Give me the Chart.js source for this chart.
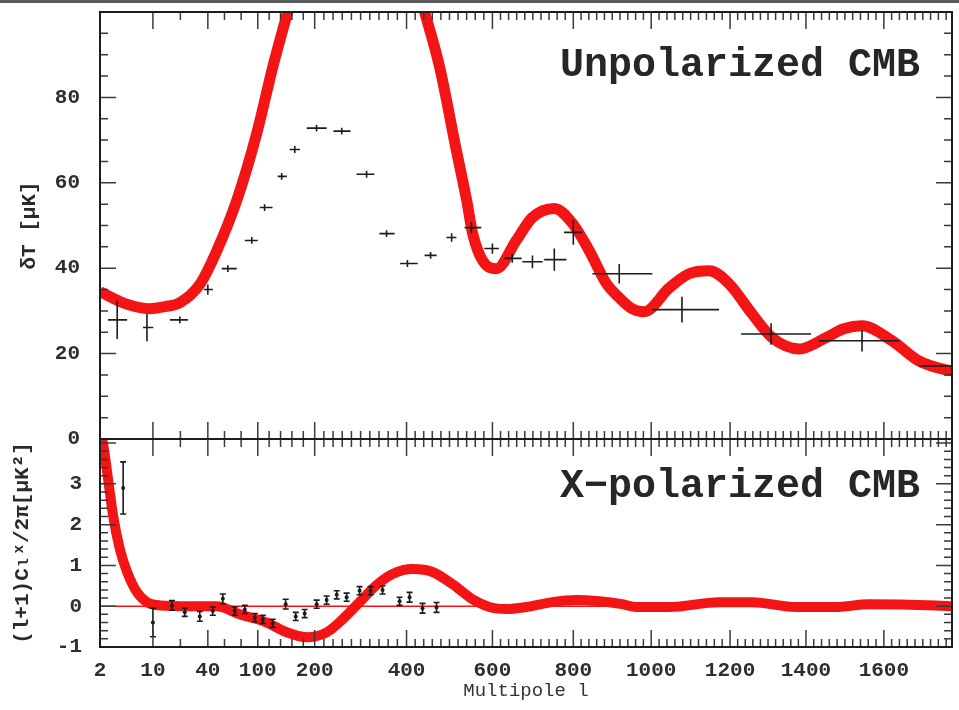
<!DOCTYPE html>
<html>
<head>
<meta charset="utf-8">
<script src="https://cdn.jsdelivr.net/npm/chart.js@4.4.1/dist/chart.umd.min.js"></script>
<style>
  html, body { margin: 0; padding: 0; background: #fff; }
  #wrap { width: 959px; height: 710px; }
</style>
</head>
<body>
<div id="wrap"><canvas id="cmbChart" width="959" height="710"></canvas></div>
<script>
// x axis tick labels (multipole l)
const xTickLabels = [2, 10, 40, 100, 200, 400, 600, 800, 1000, 1200, 1400, 1600];
const yTopTickLabels = [0, 20, 40, 60, 80];
const yBotTickLabels = [-1, 0, 1, 2, 3];

// model curve, unpolarized (dT in uK)
const modelTopL = [2, 5.8, 9.5, 16.5, 24.7, 35.6, 50.8, 74.8, 98.8, 126.3, 152.6, 191, 243, 291, 352, 407, 442,
  477, 516, 540, 554, 577, 610, 659, 699, 753, 798, 841, 885, 918, 951, 982, 1046, 1096, 1147, 1197, 1258, 1311,
  1382, 1451, 1497, 1544, 1621, 1690, 1759, 1775];
const modelTopT = [34.5, 31.7, 30.5, 31.0, 31.9, 36.2, 44.1, 55.9, 71.6, 87.1, 100, 118, 132, 136, 129, 112, 100,
  87.1, 67.6, 55.9, 48.1, 41.8, 39.9, 46.5, 51.9, 54.0, 50.5, 44.1, 36.4, 33.1, 30.5, 29.8, 35.4, 38.7, 39.4, 36.4, 29.3, 23.7,
  21.1, 23.7, 25.8, 26.5, 23.0, 18.3, 16.2, 16.0];

// measured band powers, unpolarized
const dataTopL = [4.6, 9.1, 24.7, 40, 64, 92.8, 112, 142, 165, 204, 259, 313, 356.5, 402, 456, 505, 551, 600, 649, 699,
  753, 800, 918, 1078, 1308, 1544, 1800];
const dataTopT = [27.9, 26.1, 27.9, 35.0, 39.9, 46.5, 54.2, 61.5, 67.8, 72.8, 72.1, 62.0, 48.1, 41.1, 43.0, 47.2, 49.5,
  44.6, 42.3, 41.5, 42.0, 48.4, 38.7, 30.3, 24.6, 23.0, 17.1];
const dataTopErr = [4.5, 3.2, 0.8, 1.2, 0.8, 0.8, 0.8, 0.8, 0.8, 0.8, 0.8, 0.8, 0.8, 0.8, 0.8, 1.0, 1.3, 1.2, 1.0, 1.5,
  2.6, 2.9, 2.3, 3.0, 2.5, 2.5, 2.5];
const dataTopLo = [3.2, 8.5, 19.3, 37.8, 56.8, 84.4, 103.5, 135, 156, 186, 241, 291, 341, 386, 442, 493, 535, 581, 630, 674,
  728, 777, 849, 1003, 1229, 1433, 1690];
const dataTopHi = [6.1, 10.2, 29.1, 46, 74.8, 100, 126, 151, 174, 226, 278, 330, 374, 426, 470, 516, 574, 616, 672, 724,
  783, 823, 1003, 1172, 1413, 1639, 1900];

// model curve, X-polarized
const modelXL = [2, 2.45, 3.2, 3.96, 5.0, 6.1, 7.6, 9.1, 13.8, 30.2, 50.8, 78.4, 115.8, 150.9, 186, 226, 260.9, 297.8,
  334.8, 369.6, 414, 460.5, 507, 553.5, 593, 634.6, 684, 748, 807.7, 866.7, 925.6, 961.5, 1045.6, 1172, 1258, 1373.7,
  1477, 1561.5, 1733, 1775];
const modelXV = [4.3, 4.0, 3.14, 2.24, 1.4, 0.84, 0.34, 0.1, 0.02, 0.0, 0.0, -0.2, -0.4, -0.64, -0.76, -0.64, -0.32, 0.1,
  0.52, 0.79, 0.91, 0.84, 0.54, 0.17, -0.02, -0.07, -0.02, 0.1, 0.15, 0.12, 0.05, -0.02, -0.02, 0.1, 0.1, -0.02,
  -0.02, 0.05, 0.02, 0.0];

// measured band powers, X-polarized
const dataXL = [5.5, 10, 20.4, 27.4, 35.6, 46, 58, 72.4, 84.4, 96.4, 108.8, 126.3, 149, 166.7, 182.4, 204.3, 226, 248,
  269.6, 297.8, 321.7, 347.8, 384.8, 407, 437.2, 469.8];
const dataXV = [2.9, -0.4, 0.02, -0.15, -0.25, -0.12, 0.18, -0.12, -0.08, -0.28, -0.32, -0.42, 0.05, -0.25, -0.18, 0.05,
  0.15, 0.28, 0.22, 0.38, 0.38, 0.4, 0.12, 0.22, -0.05, -0.03];
const dataXErr = [0.64, 0.35, 0.12, 0.1, 0.12, 0.1, 0.12, 0.1, 0.1, 0.1, 0.1, 0.1, 0.12, 0.1, 0.1, 0.1, 0.1, 0.1, 0.1,
  0.1, 0.1, 0.1, 0.1, 0.12, 0.12, 0.12];

const RED = '#f31515';
const INK = '#1c1c1c';
const MONO = "'Liberation Mono', 'DejaVu Sans Mono', monospace";

// the multipole axis is stretched at low l and close to linear above 400
const WARP_L = [2, 10, 40, 100, 200, 400, 600, 800, 1000, 1200, 1400, 1600, 1800];
const WARP_U = [0, 53, 108, 158, 215, 307, 393, 474, 552, 631, 707, 785, 863];

function warp(l) {
    let i = 1;
    while (i < WARP_L.length - 1 && l > WARP_L[i]) i++;
    const f = (l - WARP_L[i - 1]) / (WARP_L[i] - WARP_L[i - 1]);
    return WARP_U[i - 1] + f * (WARP_U[i] - WARP_U[i - 1]);
}

function unwarp(u) {
    let i = 1;
    while (i < WARP_U.length - 1 && u > WARP_U[i]) i++;
    const f = (u - WARP_U[i - 1]) / (WARP_U[i] - WARP_U[i - 1]);
    return WARP_L[i - 1] + f * (WARP_L[i] - WARP_L[i - 1]);
}

class WarpScale extends Chart.LinearScale {
    buildTicks() {
        return xTickLabels.map(v => ({ value: v }));
    }
    getPixelForValue(value) {
        if (value === null || value === undefined) return NaN;
        const u0 = warp(this.min), u1 = warp(this.max);
        return this.getPixelForDecimal((warp(value) - u0) / (u1 - u0));
    }
    getValueForPixel(pixel) {
        const u0 = warp(this.min), u1 = warp(this.max);
        return unwarp(u0 + this.getDecimalForPixel(pixel) * (u1 - u0));
    }
}
WarpScale.id = 'warp';
WarpScale.defaults = Chart.LinearScale.defaults;
Chart.register(WarpScale);

function minorX() {
    const out = [25, 60, 80, 120, 140, 160, 180];
    for (let l = 220; l < 1780; l += 20) {
        if (l % 200 !== 0) out.push(l);
    }
    return out;
}

// frame, inward tick marks and panel captions
const framePlugin = {
    id: 'frame',
    afterDraw(chart) {
        const ctx = chart.ctx;
        const xs = chart.scales.x;
        const panels = [
            { s: chart.scales.yTop, major: 20, minor: 5, lo: 0, hi: 100 },
            { s: chart.scales.yBot, major: 1, minor: 0.2, lo: -1, hi: 4.1 }
        ];
        ctx.save();
        ctx.fillStyle = '#5a5a5a';
        ctx.fillRect(0, 0, chart.width, 3);

        ctx.strokeStyle = '#3a3a3a';
        ctx.lineWidth = 1.5;
        const minors = minorX();
        panels.forEach(p => {
            const ys = p.s;
            ctx.beginPath();
            xTickLabels.forEach(v => {
                const px = xs.getPixelForValue(v);
                ctx.moveTo(px, ys.top); ctx.lineTo(px, ys.top + 17);
                ctx.moveTo(px, ys.bottom); ctx.lineTo(px, ys.bottom - 17);
            });
            minors.forEach(v => {
                const px = xs.getPixelForValue(v);
                ctx.moveTo(px, ys.top); ctx.lineTo(px, ys.top + 8);
                ctx.moveTo(px, ys.bottom); ctx.lineTo(px, ys.bottom - 8);
            });
            const n = Math.round((p.hi - p.lo) / p.minor);
            for (let k = 1; k < n + 1; k++) {
                const v = p.lo + k * p.minor;
                if (v >= p.hi - 1e-6) break;
                const isMajor = Math.abs(v / p.major - Math.round(v / p.major)) < 1e-6;
                const len = isMajor ? 16 : 8;
                const py = ys.getPixelForValue(v);
                ctx.moveTo(xs.left, py); ctx.lineTo(xs.left + len, py);
                ctx.moveTo(xs.right, py); ctx.lineTo(xs.right - len, py);
            }
            ctx.stroke();
        });

        ctx.strokeStyle = INK;
        ctx.lineWidth = 2;
        panels.forEach(p => {
            ctx.strokeRect(xs.left, p.s.top, xs.right - xs.left, p.s.bottom - p.s.top);
        });

        ctx.fillStyle = '#262626';
        ctx.font = 'bold 40px ' + MONO;
        ctx.textAlign = 'right';
        ctx.textBaseline = 'middle';
        ctx.fillText('Unpolarized CMB', xs.right - 32, panels[0].s.top + 54);
        ctx.fillText('X\u2212polarized CMB', xs.right - 32, panels[1].s.top + 48);
        ctx.restore();
    }
};

// error bars for the measured points
const errorBarPlugin = {
    id: 'errorBars',
    afterDatasetsDraw(chart) {
        const ctx = chart.ctx;
        const xs = chart.scales.x;
        chart.data.datasets.forEach(ds => {
            if (!ds.errorBars) return;
            const ys = chart.scales[ds.yAxisID];
            ctx.save();
            ctx.beginPath();
            ctx.rect(xs.left, ys.top, xs.right - xs.left, ys.bottom - ys.top);
            ctx.clip();
            ctx.strokeStyle = INK;
            ctx.lineWidth = 1.6;
            ctx.beginPath();
            ds.data.forEach(d => {
                const px = xs.getPixelForValue(d.x);
                const py = ys.getPixelForValue(d.y);
                const y0 = ys.getPixelForValue(d.y - d.err);
                const y1 = ys.getPixelForValue(d.y + d.err);
                ctx.moveTo(px, y0); ctx.lineTo(px, y1);
                if (d.lo !== undefined) {
                    ctx.moveTo(xs.getPixelForValue(d.lo), py);
                    ctx.lineTo(xs.getPixelForValue(d.hi), py);
                } else {
                    ctx.moveTo(px - 3, y0); ctx.lineTo(px + 3, y0);
                    ctx.moveTo(px - 3, y1); ctx.lineTo(px + 3, y1);
                }
            });
            ctx.stroke();
            ctx.restore();
        });
    }
};

// drop the label overhang padding so the frame sits where the layout says
function noOverhang(s) {
    s.paddingTop = 0;
    s.paddingBottom = 0;
    s.paddingLeft = 0;
    s.paddingRight = 0;
}

function initChart() {
    const ctx = document.getElementById('cmbChart').getContext('2d');
    const tickFont = { family: MONO, size: 21, weight: 'bold' };

    const data = {
        datasets: [
            {
                type: 'scatter',
                data: dataTopL.map((l, i) => ({ x: l, y: dataTopT[i], err: dataTopErr[i], lo: dataTopLo[i], hi: dataTopHi[i] })),
                yAxisID: 'yTop',
                pointRadius: 0,
                errorBars: true,
                order: 1
            },
            {
                type: 'scatter',
                data: dataXL.map((l, i) => ({ x: l, y: dataXV[i], err: dataXErr[i] })),
                yAxisID: 'yBot',
                pointRadius: 2,
                pointBackgroundColor: INK,
                pointBorderWidth: 0,
                errorBars: true,
                clip: 0,
                order: 1
            },
            {
                type: 'line',
                data: [{ x: 2, y: 0 }, { x: 1775, y: 0 }],
                yAxisID: 'yBot',
                borderColor: RED,
                borderWidth: 1.5,
                pointRadius: 0,
                clip: 0,
                order: 4
            },
            {
                type: 'line',
                data: modelTopL.map((l, i) => ({ x: l, y: modelTopT[i] })),
                yAxisID: 'yTop',
                borderColor: RED,
                borderWidth: 11,
                borderJoinStyle: 'round',
                pointRadius: 0,
                cubicInterpolationMode: 'monotone',
                clip: 0,
                order: 5
            },
            {
                type: 'line',
                data: modelXL.map((l, i) => ({ x: l, y: modelXV[i] })),
                yAxisID: 'yBot',
                borderColor: RED,
                borderWidth: 10,
                borderJoinStyle: 'round',
                pointRadius: 0,
                cubicInterpolationMode: 'monotone',
                clip: 0,
                order: 5
            }
        ]
    };

    const config = {
        type: 'scatter',
        data: data,
        options: {
            responsive: false,
            animation: false,
            devicePixelRatio: 1,
            layout: { padding: { top: 12, right: 7, left: 0, bottom: 0 } },
            plugins: {
                legend: { display: false },
                tooltip: { enabled: false }
            },
            scales: {
                x: {
                    type: 'warp',
                    position: 'bottom',
                    min: 2,
                    max: 1775,
                    grid: { display: false, drawTicks: false },
                    border: { display: false },
                    ticks: {
                        autoSkip: false,
                        maxRotation: 0,
                        padding: 11,
                        color: '#2e2e2e',
                        font: tickFont,
                        callback: (v) => String(v)
                    },
                    title: {
                        display: true,
                        text: 'Multipole l',
                        color: '#333',
                        font: { family: MONO, size: 19 },
                        padding: { top: 0, bottom: 8 }
                    },
                    afterFit: (s) => { s.height = 63; noOverhang(s); }
                },
                yBot: {
                    type: 'linear',
                    position: 'left',
                    stack: 'panels',
                    stackWeight: 208,
                    min: -1,
                    max: 4.1,
                    grid: { display: false, drawTicks: false },
                    border: { display: false },
                    ticks: { padding: 18, color: '#2e2e2e', font: tickFont },
                    afterBuildTicks: (s) => { s.ticks = yBotTickLabels.map(v => ({ value: v })); },
                    title: {
                        display: true,
                        text: '(l+1)C\u2097\u02E3/2\u03C0[\u03BCK\u00B2]',
                        color: '#2a2a2a',
                        font: { family: MONO, size: 21, weight: 'bold' },
                        padding: { top: 10, bottom: 0 }
                    },
                    afterFit: (s) => { s.width = 100; noOverhang(s); }
                },
                yTop: {
                    type: 'linear',
                    position: 'left',
                    stack: 'panels',
                    stackWeight: 427,
                    min: 0,
                    max: 100,
                    grid: { display: false, drawTicks: false },
                    border: { display: false },
                    ticks: { padding: 20, color: '#2e2e2e', font: tickFont },
                    afterBuildTicks: (s) => { s.ticks = yTopTickLabels.map(v => ({ value: v })); },
                    title: {
                        display: true,
                        text: '\u03B4T [\u03BCK]',
                        color: '#2a2a2a',
                        font: { family: MONO, size: 21, weight: 'bold' },
                        padding: { top: 17, bottom: 0 }
                    },
                    afterFit: (s) => { s.width = 100; noOverhang(s); }
                }
            }
        },
        plugins: [errorBarPlugin, framePlugin]
    };

    new Chart(ctx, config);
}

document.addEventListener('DOMContentLoaded', () => {
    initChart();
});
</script>
</body>
</html>
